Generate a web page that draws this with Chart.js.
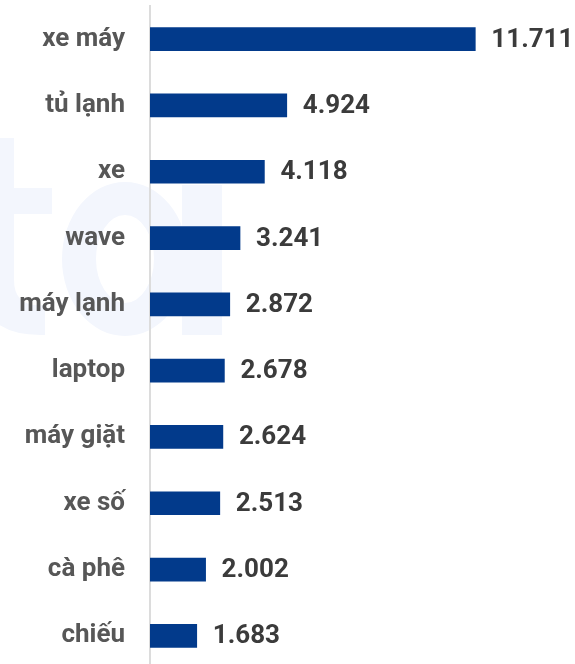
<!DOCTYPE html>
<html>
<head>
<meta charset="utf-8">
<script src="https://cdn.jsdelivr.net/npm/chart.js@4"></script>
<style>
  html, body { margin: 0; padding: 0; background: #fff; overflow: hidden; }
  #wrap { position: relative; width: 575px; height: 669px; }
</style>
</head>
<body>
<div id="wrap"><canvas id="tukhoa"></canvas></div>
<script>
const tuKhoa = ['xe máy', 'tủ lạnh', 'xe', 'wave', 'máy lạnh', 'laptop', 'máy giặt', 'xe số', 'cà phê', 'chiếu']
const luotTim = [11711, 4924, 4118, 3241, 2872, 2678, 2624, 2513, 2002, 1683]

const xanh = '#023a8b'

// số kiểu Việt: 11711 -> 11.711
function dinhDang(n) {
  return String(n).replace(/\B(?=(\d{3})+(?!\d))/g, '.')
}

// logo mờ phía sau ("ta")
const nenMo = {
  id: 'nenMo',
  beforeDraw(chart) {
    const ctx = chart.ctx
    ctx.save()
    ctx.fillStyle = '#f3f6fd'
    // chữ t
    ctx.fillRect(-22, 138, 36, 150)
    ctx.fillRect(-40, 188, 92, 26)
    ctx.beginPath()
    ctx.moveTo(-22, 280)
    ctx.quadraticCurveTo(-20, 337, 45, 335)
    ctx.lineTo(45, 305)
    ctx.quadraticCurveTo(14, 308, 14, 280)
    ctx.closePath()
    ctx.fill()
    // chữ a
    ctx.beginPath()
    ctx.ellipse(125, 259, 63, 77, 0, 0, Math.PI * 2)
    ctx.ellipse(125, 259, 29, 44, 0, 0, Math.PI * 2, true)
    ctx.fill('evenodd')
    ctx.fillRect(182, 185, 40, 150)
    ctx.restore()
  },
}

// ghi số ở cuối mỗi thanh
const ghiSo = {
  id: 'ghiSo',
  afterDatasetsDraw(chart) {
    const ctx = chart.ctx
    const meta = chart.getDatasetMeta(0)
    ctx.save()
    ctx.fillStyle = '#3b3b3b'
    ctx.font = 'bold 26px Roboto'
    ctx.textAlign = 'left'
    ctx.textBaseline = 'middle'
    meta.data.forEach((bar, i) => {
      ctx.fillText(dinhDang(luotTim[i]), bar.x + 16, bar.y + 1)
    })
    ctx.restore()
  },
}

const tuKhoaData = {
  labels: tuKhoa,
  datasets: [
    {
      data: luotTim,
      backgroundColor: xanh,
      borderWidth: 0,
      barThickness: 23,
    },
  ],
}

const configTuKhoa = {
  type: 'bar',
  data: tuKhoaData,
  options: {
    indexAxis: 'y',
    responsive: true,
    maintainAspectRatio: false,
    animation: false,
    layout: { autoPadding: false, padding: { top: 6, right: 0, bottom: 0, left: 0 } },
    plugins: {
      legend: { display: false },
      tooltip: { enabled: false },
    },
    scales: {
      x: {
        display: false,
        min: 0,
        max: 15300,
      },
      y: {
        afterFit(scale) {
          scale.width = 150
          scale.paddingTop = 0
          scale.paddingBottom = 0
        },
        grid: { display: false, drawTicks: false },
        border: { display: true, color: '#dcdcdc', width: 2 },
        ticks: {
          padding: 25,
          color: '#575757',
          font: { family: 'Roboto', size: 26, weight: 'bold' },
        },
      },
    },
  },
  plugins: [nenMo, ghiSo],
}

const tuKhoaChart = new Chart(document.getElementById('tukhoa'), configTuKhoa)
</script>
</body>
</html>
